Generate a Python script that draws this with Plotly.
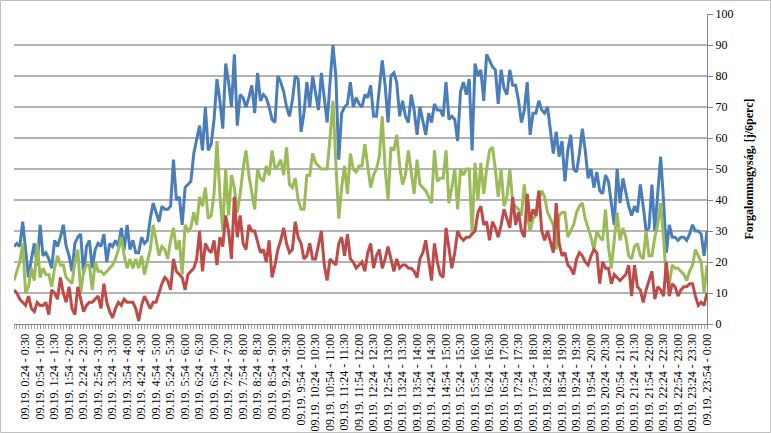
import plotly.graph_objects as go

# 6-minute intervals of 09.19 (index 0..239)
total = [25, 26, 25, 33, 24, 15, 21, 26, 19, 32,
         22, 23, 21, 18, 27, 25, 28, 32, 25, 22,
         17, 26, 28, 29, 16, 25, 27, 18, 24, 26,
         25, 29, 20, 26, 25, 27, 25, 31, 24, 32,
         24, 27, 23, 23, 28, 26, 27, 34, 39, 36,
         33, 38, 37, 37, 38, 53, 40, 41, 32, 44,
         45, 46, 55, 59, 64, 56, 70, 56, 58, 66,
         79, 72, 63, 84, 78, 70, 87, 64, 74, 73,
         70, 73, 77, 68, 81, 72, 74, 73, 70, 66,
         65, 80, 78, 75, 70, 67, 72, 80, 79, 62,
         68, 78, 70, 80, 74, 69, 81, 72, 65, 78,
         90, 80, 53, 68, 70, 71, 78, 70, 73, 71,
         70, 74, 73, 77, 67, 67, 76, 85, 77, 65,
         80, 81, 78, 67, 72, 67, 65, 74, 69, 61,
         70, 66, 61, 68, 65, 71, 69, 69, 67, 78,
         66, 67, 66, 59, 75, 78, 74, 79, 56, 84,
         80, 82, 72, 87, 85, 83, 82, 71, 82, 76,
         74, 82, 77, 77, 72, 65, 69, 78, 61, 68,
         68, 72, 69, 68, 70, 63, 55, 62, 54, 59,
         46, 56, 61, 50, 49, 55, 63, 56, 47, 50,
         44, 49, 43, 42, 48, 46, 38, 32, 50, 39,
         47, 42, 38, 35, 38, 36, 45, 38, 30, 31,
         45, 30, 42, 54, 40, 23, 32, 28, 28, 27,
         28, 28, 27, 29, 32, 30, 30, 29, 22, 30]

dir1 = [14, 17, 20, 26, 10, 12, 18, 14, 26, 15,
        18, 16, 16, 12, 18, 22, 19, 19, 15, 14,
        13, 20, 24, 10, 17, 19, 19, 11, 20, 17,
        17, 16, 17, 18, 19, 21, 24, 28, 22, 18,
        21, 18, 21, 18, 22, 16, 20, 24, 32, 27,
        22, 25, 24, 21, 27, 31, 24, 27, 16, 32,
        30, 31, 36, 32, 41, 38, 44, 34, 35, 42,
        59, 42, 30, 50, 35, 48, 44, 36, 42, 50,
        56, 48, 42, 37, 50, 47, 46, 51, 48, 56,
        50, 51, 53, 48, 57, 45, 44, 47, 40, 37,
        37, 48, 48, 55, 52, 51, 50, 50, 50, 60,
        72, 52, 34, 44, 51, 42, 55, 50, 49, 51,
        51, 58, 50, 44, 48, 50, 54, 67, 50, 40,
        57, 56, 61, 51, 45, 48, 56, 48, 42, 53,
        45, 44, 43, 41, 39, 56, 46, 47, 47, 56,
        39, 44, 50, 37, 50, 48, 50, 50, 29, 52,
        40, 52, 42, 50, 56, 57, 50, 41, 50, 38,
        41, 50, 39, 38, 37, 35, 45, 35, 30, 34,
        35, 40, 43, 41, 36, 34, 32, 24, 35, 36,
        36, 28, 30, 32, 36, 38, 39, 34, 31, 28,
        24, 30, 28, 27, 37, 25, 18, 27, 36, 27,
        31, 28, 22, 21, 25, 26, 22, 21, 30, 22,
        22, 28, 32, 39, 28, 14, 13, 19, 18, 18,
        17, 16, 14, 17, 19, 24, 22, 20, 10, 19]

dir2 = [11, 10, 8, 7, 6, 9, 5, 4, 7, 6,
        6, 7, 3, 11, 10, 8, 15, 10, 7, 12,
        5, 3, 12, 8, 4, 6, 7, 7, 8, 9,
        5, 13, 7, 4, 2, 5, 7, 6, 8, 7,
        7, 7, 5, 1, 6, 9, 7, 5, 7, 7,
        10, 13, 15, 14, 11, 21, 17, 16, 15, 11,
        16, 17, 18, 21, 30, 17, 26, 24, 23, 27,
        19, 28, 25, 35, 30, 21, 41, 28, 35, 26,
        24, 32, 30, 30, 26, 23, 24, 20, 27, 15,
        19, 24, 27, 31, 26, 23, 24, 33, 28, 26,
        21, 22, 26, 21, 21, 25, 30, 19, 14, 21,
        20, 19, 26, 28, 22, 29, 21, 20, 18, 19,
        20, 17, 23, 26, 18, 22, 24, 18, 21, 25,
        21, 17, 21, 18, 19, 19, 18, 18, 17, 15,
        21, 23, 27, 20, 14, 26, 20, 16, 15, 31,
        25, 18, 23, 30, 28, 27, 28, 28, 29, 30,
        36, 38, 32, 33, 27, 33, 31, 28, 32, 37,
        34, 31, 41, 32, 36, 30, 28, 42, 33, 37,
        35, 43, 30, 27, 30, 26, 23, 39, 26, 22,
        23, 19, 18, 16, 21, 23, 22, 20, 19, 22,
        24, 23, 13, 20, 18, 18, 13, 16, 15, 14,
        15, 16, 19, 9, 19, 12, 11, 7, 11, 14,
        17, 8, 12, 11, 9, 20, 9, 13, 12, 9,
        11, 12, 12, 13, 13, 9, 6, 7, 6, 10]

# tick labels: every 30 minutes, interval ending on :00 / :30
tick_idx = list(range(4, 240, 5))
tick_labels = []
for k in tick_idx:
    s = k * 6
    e = s + 6
    tick_labels.append("09.19. %d:%02d - %d:%02d" % (s // 60, s % 60, (e // 60) % 24, e % 60))

x = list(range(len(total)))

series = [("Összesen", total, "#4A7EBB"),
          ("1. irány", dir1, "#9BBB59"),
          ("2. irány", dir2, "#BE4B48")]

fig = go.Figure()
for name, vals, col in series:
    fig.add_trace(go.Scatter(x=x, y=vals, mode="lines", name=name,
                             line=dict(color=col, width=3)))

serif = "Liberation Serif, Times New Roman, serif"
fig.update_layout(
    width=771, height=433,
    margin=dict(l=14, r=64, t=14, b=109),
    paper_bgcolor="white", plot_bgcolor="white",
    showlegend=False,
    font=dict(family=serif, size=12, color="#000000"),
    xaxis=dict(range=[0, 239], tickmode="array", tickvals=tick_idx, ticktext=tick_labels,
               tickangle=-90, showgrid=False, zeroline=False, automargin=False,
               showline=True, linecolor="#868686", linewidth=1,
               ticks="outside", ticklen=4, tickcolor="#868686",
               minor=dict(ticks="outside", dtick=1, ticklen=4, tickcolor="#a0a0a0"),
               tickfont=dict(family=serif, size=12)),
    yaxis=dict(range=[0, 100], dtick=10, side="right", automargin=False,
               showgrid=True, gridcolor="#b3b3b3", gridwidth=1.5, zeroline=False,
               showline=True, linecolor="#868686", linewidth=1,
               ticks="outside", ticklen=5, tickcolor="#868686",
               tickfont=dict(family=serif, size=12),
               title=dict(text="<b>Forgalomnagyság, [j/6perc]</b>",
                          font=dict(family=serif, size=12), standoff=12)),
)

fig.add_shape(type="rect", xref="paper", yref="paper",
              x0=-13.5 / 693, x1=756.5 / 693, y0=-108.5 / 310, y1=323.5 / 310,
              line=dict(color="#bfbfbf", width=1), fillcolor="rgba(0,0,0,0)")

fig.write_html("out.html")
